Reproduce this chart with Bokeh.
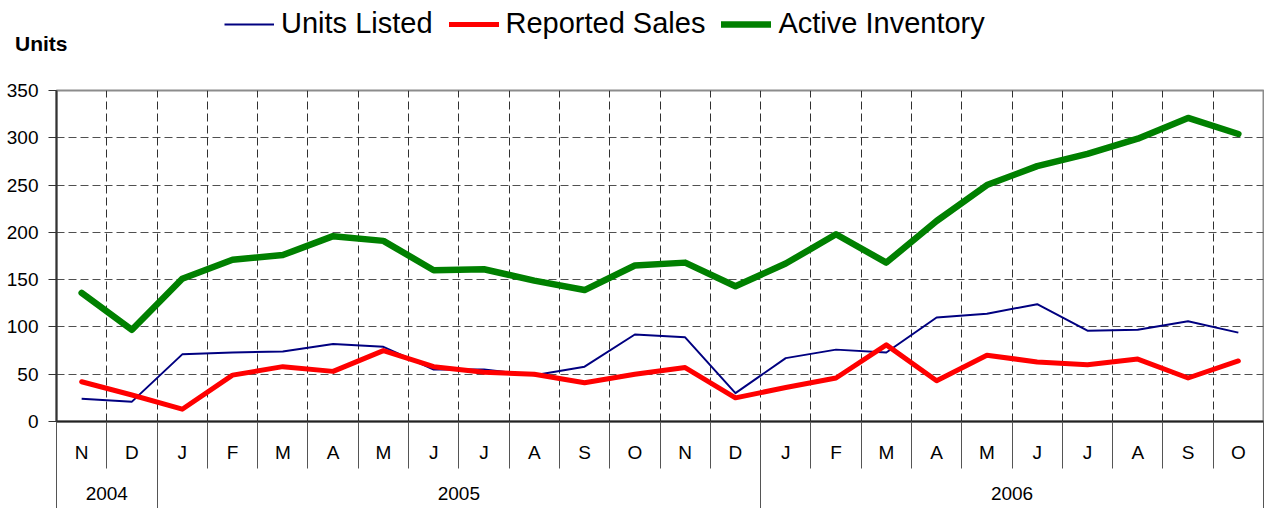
from bokeh.plotting import figure
from bokeh.layouts import column
from bokeh.models import Range1d, FixedTicker, LinearAxis, Legend, LegendItem, Grid
from bokeh.embed import file_html
from bokeh.resources import INLINE

# ---- data ----
months = ["N", "D", "J", "F", "M", "A", "M", "J", "J", "A", "S", "O",
          "N", "D", "J", "F", "M", "A", "M", "J", "J", "A", "S", "O"]
years = ["2004", "2005", "2006"]
year_counts = [2, 12, 10]
units_listed = [24, 21, 71, 73, 74, 82, 79, 55, 55, 49, 58, 92,
                89, 30, 67, 76, 73, 110, 114, 124, 96, 97, 106, 94]
reported_sales = [42, 28, 13, 49, 58, 53, 75, 58, 52, 50, 41, 50,
                  57, 25, 36, 46, 81, 43, 70, 63, 60, 66, 46, 64]
active_inventory = [136, 97, 151, 171, 176, 196, 191, 160, 161, 149, 139, 165,
                    168, 143, 167, 198, 168, 212, 250, 270, 283, 299, 321, 304]
y_ticks = [0, 50, 100, 150, 200, 250, 300, 350]
y_title = "Units"
series_names = ["Units Listed", "Reported Sales", "Active Inventory"]
series_colors = ["#000080", "#ff0000", "#008000"]
series_widths = [2, 5, 6.5]

FONT = "Liberation Sans"
W = 1264
HEAD_H = 70
MAIN_H = 508 - HEAD_H
NAN = float("nan")

n = len(months)
xs = list(range(n))
bounds = [i - 0.5 for i in range(n + 1)]
year_bounds = [-0.5]
for c in year_counts:
    year_bounds.append(year_bounds[-1] + c)
year_centers = [(year_bounds[i] + year_bounds[i + 1]) / 2 for i in range(len(years))]

# ---------------- header (legend + axis title) ----------------
head = figure(width=W, height=HEAD_H, output_backend="svg", toolbar_location=None,
              x_range=Range1d(0, W), y_range=Range1d(0, HEAD_H),
              x_axis_location=None, y_axis_location=None,
              min_border_left=0, min_border_right=0, min_border_top=0, min_border_bottom=0)
head.grid.visible = False
head.outline_line_color = None
proxies = [head.line([NAN], [NAN], line_color=c, line_width=w,
                     line_cap="round" if w > 3 else "butt")
           for c, w in zip(series_colors, series_widths)]
legend = Legend(items=[LegendItem(label=nm, renderers=[r]) for nm, r in zip(series_names, proxies)],
                orientation="horizontal", location=(168, HEAD_H - 40))
legend.label_text_font = FONT
legend.label_text_font_size = "29px"
legend.label_text_color = "black"
legend.glyph_width = 50
legend.glyph_height = 20
legend.label_standoff = 7
legend.spacing = 16
legend.padding = 0
legend.margin = 0
legend.background_fill_alpha = 0
legend.border_line_color = None
head.add_layout(legend, "center")

title_pos = HEAD_H - 43
taxis = LinearAxis(ticker=FixedTicker(ticks=[title_pos]),
                   major_label_overrides={title_pos: y_title})
taxis.axis_line_color = None
taxis.major_tick_line_color = None
taxis.minor_tick_line_color = None
taxis.major_tick_out = 0
taxis.major_tick_in = 0
taxis.major_label_standoff = -11
taxis.major_label_text_font = FONT
taxis.major_label_text_font_size = "21px"
taxis.major_label_text_font_style = "bold"
taxis.major_label_text_color = "black"
head.add_layout(taxis, "left")

# ---------------- main chart ----------------
p = figure(width=W, height=MAIN_H, output_backend="svg", toolbar_location=None,
           x_range=Range1d(bounds[0], bounds[-1]), y_range=Range1d(y_ticks[0], y_ticks[-1]),
           x_axis_location=None, y_axis_location=None,
           min_border_left=56, min_border_right=1, min_border_top=20, min_border_bottom=87)
p.grid.visible = False
p.outline_line_color = "#8c8c8c"
p.outline_line_width = 2

ygrid = Grid(dimension=1, ticker=FixedTicker(ticks=y_ticks[1:-1]),
             grid_line_color="#505050", grid_line_dash="8 4", grid_line_width=1)
xgrid = Grid(dimension=0, ticker=FixedTicker(ticks=bounds[1:-1]),
             grid_line_color="#303030", grid_line_dash="8 4", grid_line_width=1)
p.add_layout(ygrid, "center")
p.add_layout(xgrid, "center")

# y axis
yaxis = LinearAxis(ticker=FixedTicker(ticks=y_ticks))
yaxis.axis_line_color = "#333333"
yaxis.axis_line_width = 2
yaxis.major_tick_out = 8
yaxis.major_tick_in = 0
yaxis.major_tick_line_color = "#333333"
yaxis.major_tick_line_width = 1
yaxis.minor_tick_line_color = None
yaxis.major_label_standoff = 10
yaxis.major_label_text_font = FONT
yaxis.major_label_text_font_size = "19px"
yaxis.major_label_text_color = "black"
p.add_layout(yaxis, "left")

# month axis
maxis = LinearAxis(ticker=FixedTicker(ticks=xs, minor_ticks=bounds),
                   major_label_overrides={i: m for i, m in zip(xs, months)})
maxis.axis_line_color = "#222222"
maxis.axis_line_width = 2
maxis.major_tick_line_color = None
maxis.major_tick_out = 0
maxis.major_tick_in = 0
maxis.minor_tick_line_color = "#555555"
maxis.minor_tick_line_width = 1
maxis.minor_tick_out = 47
maxis.minor_tick_in = 0
maxis.major_label_standoff = -27
maxis.major_label_text_font = FONT
maxis.major_label_text_font_size = "19px"
maxis.major_label_text_color = "black"
p.add_layout(maxis, "below")

# year axis
yraxis = LinearAxis(ticker=FixedTicker(ticks=year_centers, minor_ticks=year_bounds),
                    major_label_overrides={c: y for c, y in zip(year_centers, years)})
yraxis.axis_line_color = None
yraxis.major_tick_line_color = None
yraxis.major_tick_out = 0
yraxis.major_tick_in = 0
yraxis.minor_tick_line_color = "#555555"
yraxis.minor_tick_line_width = 1
yraxis.minor_tick_out = 44
yraxis.minor_tick_in = 10
yraxis.major_label_standoff = -23
yraxis.major_label_text_font = FONT
yraxis.major_label_text_font_size = "19px"
yraxis.major_label_text_color = "black"
p.add_layout(yraxis, "below")

# lines
for vals, c, w in zip([units_listed, reported_sales, active_inventory], series_colors, series_widths):
    p.line(xs, vals, line_color=c, line_width=w, line_join="round",
           line_cap="round" if w > 3 else "butt")

layout = column(head, p, spacing=0)
open("out.html", "w").write(file_html(layout, INLINE))
